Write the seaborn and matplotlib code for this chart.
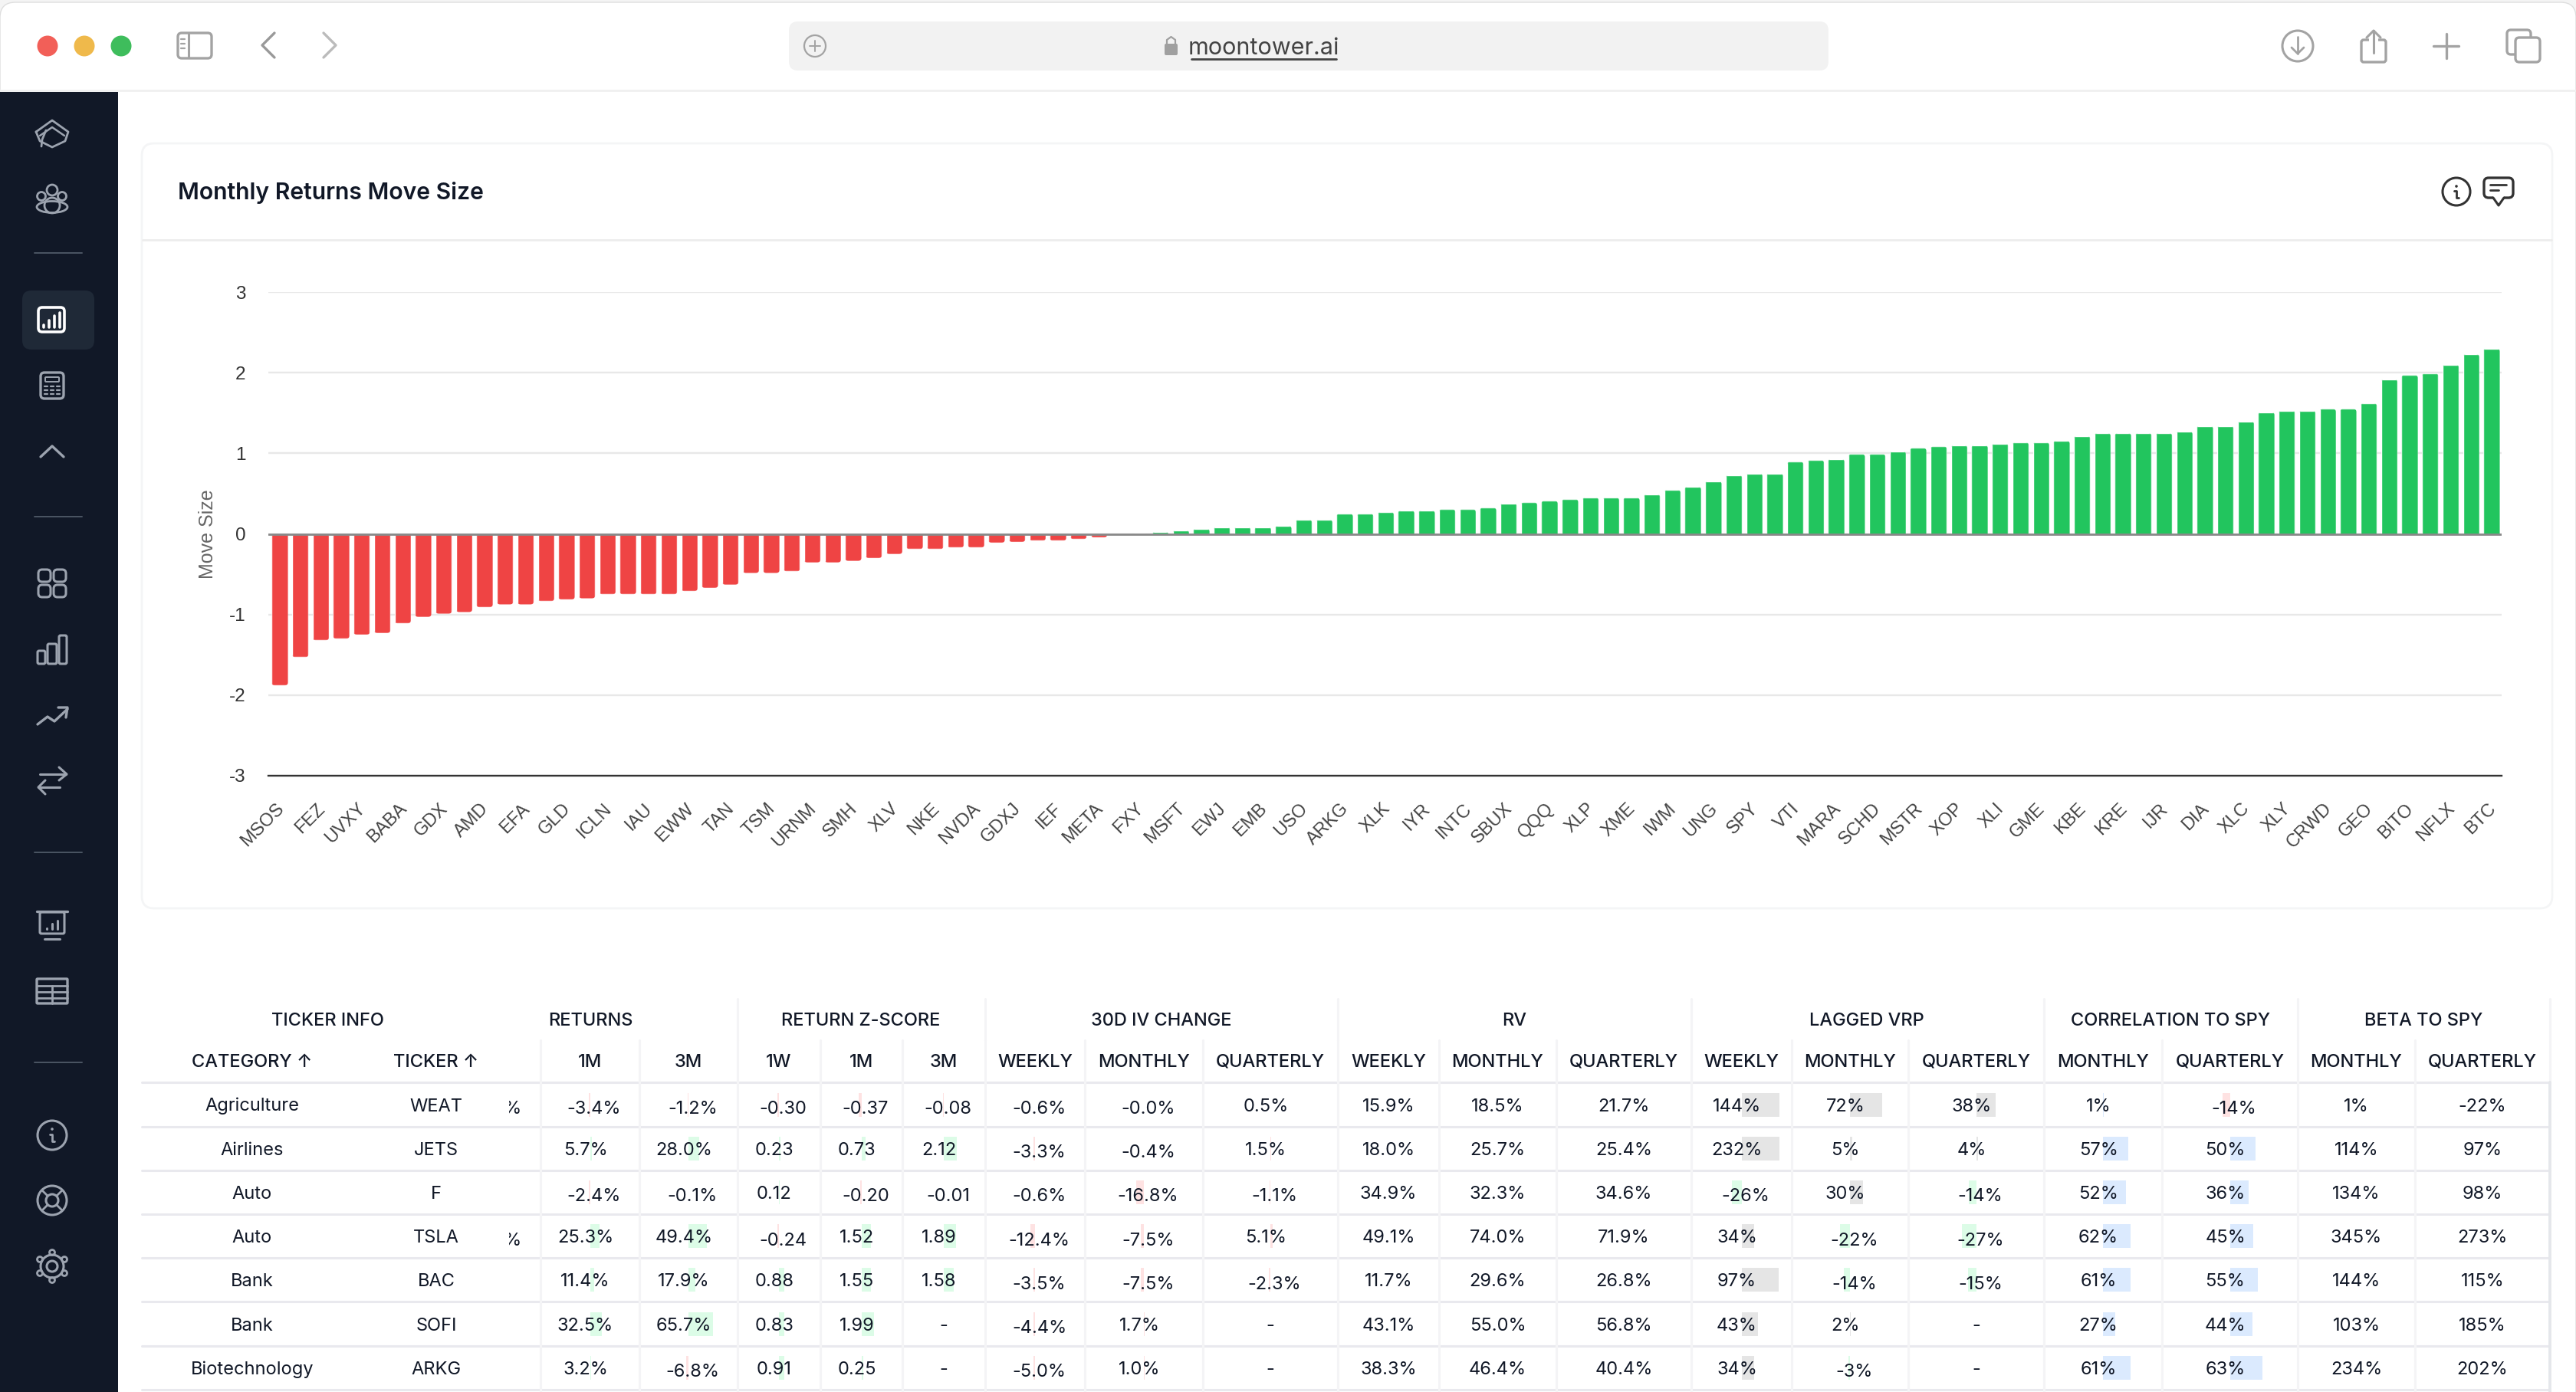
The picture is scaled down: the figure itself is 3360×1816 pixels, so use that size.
import matplotlib
matplotlib.use("Agg")
import matplotlib.pyplot as plt
import pandas as pd
import seaborn as sns
from matplotlib.patches import Circle, Ellipse, FancyBboxPatch, Rectangle
from matplotlib.transforms import Bbox, ScaledTranslation

# --- Chart data ---
LABELLED = [
    "MSOS", "FEZ", "UVXY", "BABA", "GDX", "AMD", "EFA", "GLD", "ICLN", "IAU", "EWW",
    "TAN", "TSM", "URNM", "SMH", "XLV", "NKE", "NVDA", "GDXJ", "IEF", "META", "FXY",
    "MSFT", "EWJ", "EMB", "USO", "ARKG", "XLK", "IYR", "INTC", "SBUX", "QQQ", "XLP",
    "XME", "IWM", "UNG", "SPY", "VTI", "MARA", "SCHD", "MSTR", "XOP", "XLI", "GME",
    "KBE", "KRE", "IJR", "DIA", "XLC", "XLY", "CRWD", "GEO", "BITO", "NFLX", "BTC",
]
MOVE_SIZE = [
    -1.88, -1.53, -1.32, -1.30, -1.25, -1.23, -1.11, -1.03, -0.99, -0.97, -0.91,
    -0.875, -0.875, -0.835, -0.815, -0.80, -0.75, -0.75, -0.75, -0.75, -0.71, -0.67,
    -0.63, -0.485, -0.485, -0.465, -0.355, -0.355, -0.335, -0.30, -0.25, -0.19, -0.19,
    -0.17, -0.17, -0.11, -0.10, -0.085, -0.085, -0.065, -0.045, -0.005, 0.005, 0.025,
    0.045, 0.065, 0.085, 0.085, 0.085, 0.10, 0.175, 0.175, 0.25, 0.25, 0.27, 0.29,
    0.29, 0.305, 0.305, 0.325, 0.38, 0.39, 0.41, 0.43, 0.45, 0.45, 0.45, 0.49, 0.545,
    0.585, 0.655, 0.73, 0.75, 0.75, 0.895, 0.915, 0.93, 0.99, 0.99, 1.025, 1.065,
    1.085, 1.10, 1.10, 1.12, 1.135, 1.135, 1.155, 1.215, 1.25, 1.25, 1.25, 1.25, 1.27,
    1.34, 1.34, 1.395, 1.51, 1.53, 1.53, 1.55, 1.55, 1.62, 1.92, 1.97, 1.99, 2.10,
    2.23, 2.30,
]

# --- Table data ---
CATEGORIES = ["Agriculture", "Airlines", "Auto", "Auto", "Bank", "Bank", "Biotechnology"]
TICKERS = ["WEAT", "JETS", "F", "TSLA", "BAC", "SOFI", "ARKG"]
RET_1M = [-3.4, 5.7, -2.4, 25.3, 11.4, 32.5, 3.2]
RET_3M = [-1.2, 28.0, -0.1, 49.4, 17.9, 65.7, -6.8]
Z_1W = [-0.30, 0.23, 0.12, -0.24, 0.88, 0.83, 0.91]
Z_1M = [-0.37, 0.73, -0.20, 1.52, 1.55, 1.99, 0.25]
Z_3M = [-0.08, 2.12, -0.01, 1.89, 1.58, None, None]
IV_W = [-0.6, -3.3, -0.6, -12.4, -3.5, -4.4, -5.0]
IV_M = [-0.0, -0.4, -16.8, -7.5, -7.5, 1.7, 1.0]
IV_Q = [0.5, 1.5, -1.1, 5.1, -2.3, None, None]
RV_W = [15.9, 18.0, 34.9, 49.1, 11.7, 43.1, 38.3]
RV_M = [18.5, 25.7, 32.3, 74.0, 29.6, 55.0, 46.4]
RV_Q = [21.7, 25.4, 34.6, 71.9, 26.8, 56.8, 40.4]
VRP_W = [144, 232, -26, 34, 97, 43, 34]
VRP_M = [72, 5, 30, -22, -14, 2, -3]
VRP_Q = [38, 4, -14, -27, -15, None, None]
CORR_M = [1, 57, 52, 62, 61, 27, 61]
CORR_Q = [-14, 50, 36, 45, 55, 44, 63]
BETA_M = [1, 114, 134, 345, 144, 103, 234]
BETA_Q = [-22, 97, 98, 273, 115, 185, 202]

GROUPS = ["TICKER INFO", "RETURNS", "RETURN Z-SCORE", "30D IV CHANGE", "RV", "LAGGED VRP",
          "CORRELATION TO SPY", "BETA TO SPY"]
GROUP_X = [427, 770, 1123, 1515, 1975, 2435, 2831, 3161]

GREEN, RED, GREY, BLUE = "#dcfce7", "#fee2e2", "#e5e5e5", "#dbeafe"
# header, values, format, scale of a full bar, colour for >=0, colour for <0
COLUMNS = [
    ("1M", RET_1M, "{:.1f}%", 100, GREEN, RED),
    ("3M", RET_3M, "{:.1f}%", 100, GREEN, RED),
    ("1W", Z_1W, "{:.2f}", 5, GREEN, RED),
    ("1M", Z_1M, "{:.2f}", 5, GREEN, RED),
    ("3M", Z_3M, "{:.2f}", 5, GREEN, RED),
    ("WEEKLY", IV_W, "{:.1f}%", 100, RED, RED),
    ("MONTHLY", IV_M, "{:.1f}%", 100, RED, RED),
    ("QUARTERLY", IV_Q, "{:.1f}%", 100, RED, RED),
    ("WEEKLY", RV_W, "{:.1f}%", None, None, None),
    ("MONTHLY", RV_M, "{:.1f}%", None, None, None),
    ("QUARTERLY", RV_Q, "{:.1f}%", None, None, None),
    ("WEEKLY", VRP_W, "{:.0f}%", 100, GREY, GREEN),
    ("MONTHLY", VRP_M, "{:.0f}%", 100, GREY, GREEN),
    ("QUARTERLY", VRP_Q, "{:.0f}%", 100, GREY, GREEN),
    ("MONTHLY", CORR_M, "{:.0f}%", 100, BLUE, RED),
    ("QUARTERLY", CORR_Q, "{:.0f}%", 100, BLUE, RED),
    ("MONTHLY", BETA_M, "{:.0f}%", None, None, None),
    ("QUARTERLY", BETA_Q, "{:.0f}%", None, None, None),
]
# column edges, first value column to last
EDGES = [705, 834, 962, 1070, 1177, 1285, 1415, 1569, 1745, 1877, 2030, 2206, 2337, 2489,
         2666, 2820, 2997, 3150, 3326]
GROUP_EDGES = [962, 1285, 1745, 2206, 2666, 2997, 3326]
ROW_TOP = 1412.4
ROW_H = 57.2

W, H = 3360, 1816
INK = "#111827"
ICON = "#9ca3af"
CHROME = "#a3a3a3"

sns.set_theme(style="white")
plt.rcParams["font.family"] = ["Inter", "DejaVu Sans"]

fig = plt.figure(figsize=(W / 100, H / 100), dpi=100, facecolor="#f4f4f4")
bg = fig.add_axes([0, 0, 1, 1], zorder=0)
bg.set_xlim(0, W)
bg.set_ylim(H, 0)
bg.axis("off")
bg.set_autoscale_on(False)


def rrect(x0, y0, x1, y1, r, ec="none", fc="none", lw=2.0, z=3):
    p = FancyBboxPatch((x0, y0), x1 - x0, y1 - y0, boxstyle=f"round,pad=0,rounding_size={r}",
                       ec=ec, fc=fc, lw=lw, zorder=z)
    bg.add_patch(p)
    return p


def line(pts, color=ICON, lw=2.0, z=4):
    bg.plot([p[0] for p in pts], [p[1] for p in pts], color=color, lw=lw, zorder=z,
            solid_capstyle="round", solid_joinstyle="round")


def circ(x, y, r, ec=ICON, fc="none", lw=2.0, z=4):
    bg.add_patch(Circle((x, y), r, ec=ec, fc=fc, lw=lw, zorder=z))


def draw_chrome():
    rrect(0, 3, W, H + 60, 20, ec="#dedede", fc="white", lw=1.0, z=1)
    bg.plot([0, W], [118, 118], color="#f0f0f0", lw=2, zorder=2)
    for x, c in [(62, "#f25f58"), (110, "#efb94b"), (158, "#3ebd5c")]:
        circ(x, 60, 13.5, ec="none", fc=c)
    rrect(232, 43, 276, 76, 5, ec=CHROME, lw=2.4)
    line([(246, 44), (246, 75)], CHROME, 2.2)
    for y in [51, 57, 63]:
        line([(236, y), (241, y)], CHROME, 1.6)
    line([(358, 43), (342, 59), (358, 75)], "#999999", 2.4)
    line([(422, 43), (438, 59), (422, 75)], "#bbbbbb", 2.4)
    # address bar
    rrect(1029, 28, 2385, 92, 12, fc="#f2f2f2", z=2)
    circ(1063, 60, 14, ec=CHROME, lw=1.6)
    line([(1056, 60), (1070, 60)], CHROME, 1.4)
    line([(1063, 53), (1063, 67)], CHROME, 1.4)
    rrect(1519, 57, 1536, 72, 2, fc="#a0a0a0", z=4)
    line([(1522, 58), (1522, 52), (1527.5, 48), (1533, 52), (1533, 58)], "#a0a0a0", 1.6)
    bg.text(1648.5, 71, "moontower.ai", fontsize=22, color="#444444", ha="center", va="baseline", zorder=4)
    line([(1554, 77), (1743, 77)], "#444444", 2.0)
    # right toolbar
    circ(2997, 60, 20, ec=CHROME, lw=2.2)
    line([(2997, 48), (2997, 70)], CHROME, 2)
    line([(2989, 62), (2997, 70), (3005, 62)], CHROME, 2)
    rrect(3080, 52, 3112, 81, 3, ec=CHROME, lw=2.4)
    bg.add_patch(Rectangle((3090, 48), 12, 8, fc="white", ec="none", zorder=4))
    line([(3096, 40), (3096, 69)], CHROME, 2.2, z=5)
    line([(3087, 49), (3096, 40), (3105, 49)], CHROME, 2.2, z=5)
    line([(3174, 60), (3207, 60)], CHROME, 2.4)
    line([(3190.5, 44), (3190.5, 76)], CHROME, 2.4)
    rrect(3270, 39, 3301, 71, 5, ec=CHROME, lw=2.4, z=3)
    rrect(3281, 49, 3313, 81, 5, ec=CHROME, fc="white", lw=2.4, z=4)


def draw_sidebar():
    bg.add_patch(Rectangle((0, 120), 154, H - 120, fc="#111827", ec="none", zorder=2))
    for y in [330, 674, 1112, 1386]:
        bg.plot([45, 107], [y, y], color="#4b5563", lw=1.4, zorder=3)
    rrect(29, 379, 123, 456, 12, fc="#1f2937", z=3)
    x = 68
    # graduation cap
    line([(47, 172), (68, 157), (89, 172), (85, 184), (68, 192), (52, 184), (47, 172)])
    line([(52, 177), (68, 166), (84, 177)], ICON, 1.8)
    line([(60, 170), (55, 182), (54, 191)], ICON, 2)
    # people
    circ(x, 248, 7)
    circ(54, 256, 5.5)
    circ(81, 256, 5.5)
    bg.add_patch(Ellipse((x, 270), 40, 15, ec=ICON, fc="none", lw=2, zorder=4))
    circ(x, 268, 10)
    # active chart icon
    rrect(50, 401, 84, 433, 5, ec="white", lw=2.6, z=4)
    for bx, top in [(57, 424), (64, 418), (71, 412), (78, 408)]:
        line([(bx, top), (bx, 427)], "white", 2.6, z=5)
    # calculator
    rrect(53, 486, 83, 520, 5, ec=ICON, lw=2.4)
    rrect(59, 492, 77, 498, 1, ec=ICON, lw=1.4)
    for yy in [504, 509, 514]:
        for xx in [60, 68, 76]:
            line([(xx - 2, yy), (xx + 2, yy)], ICON, 1.6)
    line([(53, 596), (68, 582), (83, 596)], ICON, 2.4)
    # grid
    for gx, gy in [(50, 743), (70, 743), (50, 763), (70, 763)]:
        rrect(gx, gy, gx + 16, gy + 16, 5, ec=ICON, lw=2.2)
    # bars
    rrect(49, 849, 59, 866, 2, ec=ICON, lw=2.2)
    rrect(62, 840, 74, 866, 2, ec=ICON, lw=2.2)
    rrect(77, 829, 87, 866, 2, ec=ICON, lw=2.2)
    # trend
    line([(49, 945), (62, 935), (71, 941), (88, 925)], ICON, 2.4)
    line([(76, 923), (88, 923), (86, 936)], ICON, 2.4)
    # swap
    line([(52, 1010), (86, 1010)], ICON, 2.2)
    line([(77, 1001), (87, 1010), (77, 1018)], ICON, 2.2)
    line([(50, 1027), (78, 1027)], ICON, 2.2)
    line([(59, 1018), (50, 1027), (59, 1036)], ICON, 2.2)
    # presentation
    line([(48, 1189), (88, 1189)], ICON, 2.4)
    rrect(52, 1190, 84, 1218, 2, ec=ICON, lw=2.2)
    for bx, top in [(61, 1211), (68, 1205), (75, 1201)]:
        line([(bx, top), (bx, 1212)], ICON, 2.2)
    line([(58, 1225), (78, 1225)], ICON, 2.2)
    # table
    rrect(48, 1277, 88, 1309, 1, ec=ICON, lw=2.4)
    for yy in [1286, 1294, 1302]:
        line([(48, yy), (88, yy)], ICON, 2)
    line([(68, 1286), (68, 1309)], ICON, 2)
    # info
    circ(x, 1481, 19, lw=2.2)
    circ(x, 1473, 1.8, ec="none", fc=ICON)
    line([(x - 3, 1480), (x, 1480), (x, 1489), (x + 3, 1489)], ICON, 2)
    # help ring
    circ(x, 1566, 19, lw=2.2)
    circ(x, 1566, 8, lw=2.2)
    for dx, dy in [(-13, -13), (13, -13), (-13, 13), (13, 13)]:
        line([(x + dx * 0.45, 1566 + dy * 0.45), (x + dx, 1566 + dy)], ICON, 2)
    # gear
    circ(x, 1652, 7, lw=2.2)
    circ(x, 1652, 15, lw=2.2)
    for dx, dy in [(0, -18), (0, 18), (16, -9), (-16, -9), (16, 9), (-16, 9)]:
        circ(x + dx, 1652 + dy, 3.5, ec=ICON, lw=2)


def draw_card():
    rrect(185, 187, 3329, 1185, 16, ec="#f4f5f6", fc="white", lw=2, z=2)
    bg.plot([186, 3328], [313, 313], color="#ececec", lw=2, zorder=3)
    bg.text(232, 260, "Monthly Returns Move Size", fontsize=21.7, fontweight="semibold", color=INK,
            ha="left", va="baseline", zorder=4)
    circ(3204, 250, 18, ec="#333333", lw=2.2)
    circ(3204, 243, 1.8, ec="none", fc="#333333")
    line([(3201, 249), (3204, 249), (3204, 258), (3207, 258)], "#333333", 2.0)
    rrect(3240, 232, 3278, 258, 6, ec="#333333", lw=2.4)
    bg.add_patch(Rectangle((3252, 255), 14, 5, fc="white", ec="none", zorder=4))
    line([(3252, 258), (3259, 268), (3266, 258)], "#333333", 2.2, z=5)
    line([(3248, 241), (3269, 241)], "#333333", 2)
    line([(3248, 248), (3259, 248)], "#333333", 2)


def draw_table():
    tfont = dict(fontsize=17, color=INK, ha="center", va="baseline", zorder=7)
    hfont = dict(fontsize=17, color=INK, ha="center", va="baseline", zorder=7, fontweight="medium")
    for name, x in zip(GROUPS, GROUP_X):
        bg.text(x, 1337.5, name, **hfont)
    bg.text(329, 1391.5, "CATEGORY ↑", **hfont)
    bg.text(569, 1391.5, "TICKER ↑", **hfont)

    # row rules first, the lighter column rules go over them
    for r in range(8):
        y = ROW_TOP + r * ROW_H
        bg.plot([185, 3326], [y, y], color="#e9e9ee", lw=2.2, zorder=3)
    for x in EDGES[:-1]:
        bg.plot([x, x], [1357, H], color="#f4f4f6", lw=2.2, zorder=4)
    for x in GROUP_EDGES[:-1]:
        bg.plot([x, x], [1303, 1357], color="#f4f4f6", lw=2.2, zorder=4)
    bg.plot([3326, 3326], [1303, 1412], color="#f4f4f6", lw=2.2, zorder=4)
    bg.plot([3326, 3326], [1412, H], color="#e5e7eb", lw=2.8, zorder=4)

    for c, (head, values, fmt, scale, pos_c, neg_c) in enumerate(COLUMNS):
        left, right = EDGES[c], EDGES[c + 1]
        mid = (left + right) / 2
        bg.text(mid, 1391.5, head, **hfont)
        for r, v in enumerate(values):
            cy = ROW_TOP + (r + 0.5) * ROW_H
            if v is None:
                bg.text(mid, cy + 8.5, "-", **tfont)
                continue
            label = fmt.format(v)
            neg = label.startswith("-")
            dx, dy = 0, 0
            if scale:
                dx, dy = (5.5, 3.5) if neg else (-6, 0)
                size = 0.38 * (right - left) * min(abs(v) / scale, 1)
                bar_x = mid - size if neg else mid
                bg.add_patch(Rectangle((bar_x, cy - 15.5), size, 31, fc=neg_c if neg else pos_c,
                                       ec="none", zorder=5))
            bg.text(mid + dx, cy + 8.5 + dy, label, **tfont)

    for r, (cat, tick) in enumerate(zip(CATEGORIES, TICKERS)):
        cy = ROW_TOP + (r + 0.5) * ROW_H
        bg.text(329, cy + 8.5, cat, **tfont)
        bg.text(569, cy + 8.5, tick, **tfont)
    # clipped text left in the spare column of two rows
    for r in (0, 3):
        cy = ROW_TOP + (r + 0.5) * ROW_H
        t = bg.text(681, cy + 12, "0.7%", fontsize=17, color=INK, ha="right", va="baseline", zorder=7)
        t.set_clip_on(True)
        t.set_clip_box(Bbox([[664, 0], [700, H]]))


draw_chrome()
draw_sidebar()
draw_card()
draw_table()

# --- Bar chart ---
ax = fig.add_axes([350 / W, 1 - 1012 / H, (3263 - 350) / W, (1012 - 381) / H], zorder=1)
ax.patch.set_alpha(0)
df = pd.DataFrame({"pos": range(len(MOVE_SIZE)), "move": MOVE_SIZE})
df["sign"] = ["up" if v >= 0 else "down" for v in MOVE_SIZE]
sns.barplot(data=df, x="pos", y="move", hue="sign", palette={"up": "#22c55e", "down": "#ef4444"},
            dodge=False, width=0.8, saturation=1, legend=False, ax=ax, zorder=2)

ax.set_xlim(-0.56, 108.49)
ax.set_ylim(-3, 3)
ax.set_yticks([-3, -2, -1, 0, 1, 2, 3])
ax.set_yticklabels(["-3", "-2", "-1", "0", "1", "2", "3"], fontsize=17.5, color="#333333",
                   family="Liberation Sans")
ax.set_xticks(range(0, len(MOVE_SIZE), 2))
ax.set_xticklabels(LABELLED, fontsize=17, color="#444444", family="Liberation Sans", rotation=45,
                   ha="right", va="top", rotation_mode="anchor")
ax.tick_params(axis="x", length=0, pad=23)
ax.tick_params(axis="y", length=0, pad=21.5)
nudge = ScaledTranslation(-6 / 100, 0, fig.dpi_scale_trans)
for lab in ax.get_xticklabels():
    lab.set_transform(lab.get_transform() + nudge)
ax.set_xlabel("")
ax.set_ylabel("Move Size", fontsize=18, color="#666666", family="Liberation Sans")
ax.yaxis.set_label_coords((283 - 350) / 2913, 0.5)
ax.grid(axis="y", color="#e8e8e8", lw=1.7, zorder=0)
ax.set_axisbelow(True)
sns.despine(ax=ax, left=True, top=True, right=True, bottom=False)
ax.spines["bottom"].set_color("#333333")
ax.spines["bottom"].set_linewidth(1.7)
ax.axhline(0, color="#888888", lw=2.0, zorder=4)

# rounded bar ends: the seaborn bars stay, only clipped to a rounded box
for bar in ax.patches:
    h = bar.get_height()
    if h == 0:
        continue
    x0 = bar.get_x()
    y0 = min(bar.get_y(), bar.get_y() + h)
    y1 = max(bar.get_y(), bar.get_y() + h)
    clip = FancyBboxPatch((x0, y0 - (0.2 if h > 0 else 0)), bar.get_width(),
                          (y1 - y0) + 0.2,
                          boxstyle="round,pad=0,rounding_size=0.17", mutation_aspect=0.22,
                          transform=ax.transData, fc="none", ec="none")
    bar.set_clip_path(clip)

fig.savefig("out.png", dpi=100, facecolor=fig.get_facecolor())
